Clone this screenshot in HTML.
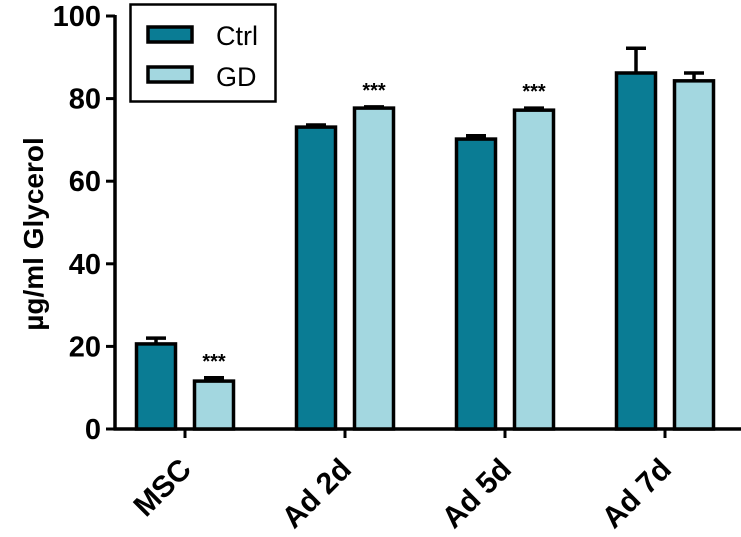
<!DOCTYPE html>
<html><head><meta charset="utf-8"><style>
html,body{margin:0;padding:0;background:#fff;}
svg{display:block;font-family:"Liberation Sans",Arial,sans-serif;}
</style></head><body>
<svg id="chart" width="741" height="537" viewBox="0 0 741 537" xmlns="http://www.w3.org/2000/svg">
<g id="axes"></g>
<g id="bars"></g>
<g>
<rect x="130.5" y="4.5" width="145" height="97" fill="#fff" stroke="#000" stroke-width="2.5"/>
<rect x="148" y="27" width="44" height="15" fill="#0a7c94" stroke="#000" stroke-width="3.5"/>
<text x="216" y="45" font-size="27">Ctrl</text>
<rect x="148" y="67" width="44" height="15" fill="#a3d7e0" stroke="#000" stroke-width="3.5"/>
<text x="216" y="86" font-size="27">GD</text>
</g>
<text transform="translate(43,234) rotate(-90)" text-anchor="middle" font-size="28" font-weight="bold">µg/ml Glycerol</text>
</svg>
<script>
const categories = ["MSC","Ad 2d","Ad 5d","Ad 7d"];
const ctrlValues = [20.6, 73.1, 70.2, 86.2];
const ctrlErrors = [1.4, 0.5, 0.8, 6.0];
const gdValues = [11.6, 77.7, 77.2, 84.3];
const gdErrors = [0.8, 0.3, 0.5, 1.9];
const significance = ["***","***","***",""];
const yTicks = [0,20,40,60,80,100];

const NS = "http://www.w3.org/2000/svg";
const x0 = 115, xEnd = 741, yBase = 429, yTop = 16;
function yScale(v){ return yBase - (v/100)*(yBase-yTop); }
function xCenter(i){ return 185 + i*160; }
function mk(tag, attrs, parent){ const e=document.createElementNS(NS,tag); for(const k in attrs) e.setAttribute(k,attrs[k]); parent.appendChild(e); return e; }
const axes=document.getElementById('axes'), bars=document.getElementById('bars');

let yl=mk('line',{x1:x0,y1:yTop-1,x2:x0,y2:yBase+1.5,stroke:'#000','stroke-width':3.5},axes);


let xl=mk('line',{x1:x0-1.5,y1:yBase,x2:xEnd,y2:yBase,stroke:'#000','stroke-width':3.5},axes);



yTicks.forEach(v=>{
  const y=yScale(v);
  const t=mk('line',{x1:x0-9,y1:y,x2:x0,y2:y,stroke:'#000','stroke-width':3},axes);
  
  
  const l=mk('text',{x:x0-14,y:y+10,'text-anchor':'end','font-size':29,'font-weight':'bold'},axes);
  l.textContent=v;
  
  
});

categories.forEach((c,i)=>{
  const cx=xCenter(i);
  const t=mk('line',{x1:cx,y1:yBase,x2:cx,y2:yBase+9,stroke:'#000','stroke-width':3},axes);
  
  
  const l=mk('text',{transform:`translate(${cx+8},${yBase+42}) rotate(-45)`,'text-anchor':'end','font-size':30,'font-weight':'bold'},axes);
  l.textContent=c;
  
  

  [[ctrlValues,ctrlErrors,'#0a7c94',cx-50,'ctrl'],[gdValues,gdErrors,'#a3d7e0',cx+8,'gd']].forEach(([vals,errs,col,left,nm])=>{
    const yv=yScale(vals[i]), ye=yScale(vals[i]+errs[i]);
    const mid=left+21;
    const el=mk('line',{x1:mid,y1:yv,x2:mid,y2:ye,stroke:'#000','stroke-width':3.5},bars);
    
    
    const ec=mk('line',{x1:mid-10,y1:ye,x2:mid+10,y2:ye,stroke:'#000','stroke-width':3.5},bars);
    
    
    const r=mk('rect',{x:left+1.5,y:yv,width:39,height:yBase-yv,fill:col,stroke:'#000','stroke-width':3.5},bars);
    
    
  });
  if(significance[i]){
    const s=mk('text',{x:cx+29,y:yScale(gdValues[i]+gdErrors[i])-10,'text-anchor':'middle','font-size':20,'font-weight':'bold'},bars);
    s.textContent=significance[i];
    
    
  }
});
</script>
</body></html>
